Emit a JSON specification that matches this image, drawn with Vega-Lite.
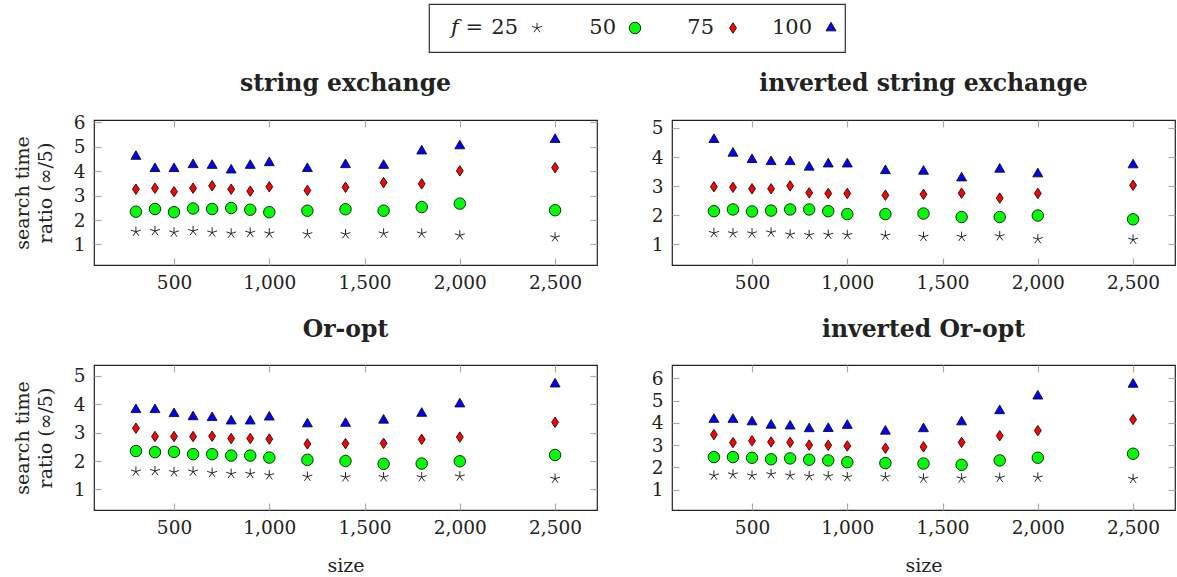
{
  "$schema": "https://vega.github.io/schema/vega-lite/v6.json",
  "background": "white",
  "padding": {"left": 12, "top": 3, "right": 0, "bottom": 0},
  "config": {
    "font": "DejaVu Serif",
    "view": {"stroke": "#222", "strokeWidth": 1.2},
    "axis": {
      "labelFont": "DejaVu Serif", "labelFontSize": 18.5, "labelColor": "#222", "labelFlush": false,
      "titleFont": "DejaVu Serif", "titleFontSize": 19, "titleFontWeight": "normal", "titleColor": "#222", "titleLineHeight": 23,
      "grid": false, "domain": false, "tickColor": "#aaa", "tickSize": -7, "tickWidth": 1.2, "labelPadding": 16
    },
    "title": {"font": "DejaVu Serif", "fontSize": 23.5, "fontWeight": "bold", "color": "#222", "offset": 23}
  },
  "datasets": {
    "series": [{"f": "25"}, {"f": "50"}, {"f": "75"}, {"f": "100"}],
    "stringExchange": [
      {"size": 300, "f": "25", "ratio": 1.52}, {"size": 400, "f": "25", "ratio": 1.55}, {"size": 500, "f": "25", "ratio": 1.49}, {"size": 600, "f": "25", "ratio": 1.55}, {"size": 700, "f": "25", "ratio": 1.49}, {"size": 800, "f": "25", "ratio": 1.45}, {"size": 900, "f": "25", "ratio": 1.48}, {"size": 1000, "f": "25", "ratio": 1.45}, {"size": 1200, "f": "25", "ratio": 1.42}, {"size": 1400, "f": "25", "ratio": 1.42}, {"size": 1600, "f": "25", "ratio": 1.45}, {"size": 1800, "f": "25", "ratio": 1.45}, {"size": 2000, "f": "25", "ratio": 1.37}, {"size": 2500, "f": "25", "ratio": 1.29},
      {"size": 300, "f": "50", "ratio": 2.34}, {"size": 400, "f": "50", "ratio": 2.45}, {"size": 500, "f": "50", "ratio": 2.32}, {"size": 600, "f": "50", "ratio": 2.47}, {"size": 700, "f": "50", "ratio": 2.45}, {"size": 800, "f": "50", "ratio": 2.49}, {"size": 900, "f": "50", "ratio": 2.42}, {"size": 1000, "f": "50", "ratio": 2.32}, {"size": 1200, "f": "50", "ratio": 2.38}, {"size": 1400, "f": "50", "ratio": 2.44}, {"size": 1600, "f": "50", "ratio": 2.38}, {"size": 1800, "f": "50", "ratio": 2.53}, {"size": 2000, "f": "50", "ratio": 2.67}, {"size": 2500, "f": "50", "ratio": 2.40},
      {"size": 300, "f": "75", "ratio": 3.26}, {"size": 400, "f": "75", "ratio": 3.30}, {"size": 500, "f": "75", "ratio": 3.16}, {"size": 600, "f": "75", "ratio": 3.30}, {"size": 700, "f": "75", "ratio": 3.40}, {"size": 800, "f": "75", "ratio": 3.26}, {"size": 900, "f": "75", "ratio": 3.18}, {"size": 1000, "f": "75", "ratio": 3.36}, {"size": 1200, "f": "75", "ratio": 3.21}, {"size": 1400, "f": "75", "ratio": 3.34}, {"size": 1600, "f": "75", "ratio": 3.53}, {"size": 1800, "f": "75", "ratio": 3.48}, {"size": 2000, "f": "75", "ratio": 4.01}, {"size": 2500, "f": "75", "ratio": 4.14},
      {"size": 300, "f": "100", "ratio": 4.60}, {"size": 400, "f": "100", "ratio": 4.10}, {"size": 500, "f": "100", "ratio": 4.10}, {"size": 600, "f": "100", "ratio": 4.26}, {"size": 700, "f": "100", "ratio": 4.23}, {"size": 800, "f": "100", "ratio": 4.04}, {"size": 900, "f": "100", "ratio": 4.23}, {"size": 1000, "f": "100", "ratio": 4.34}, {"size": 1200, "f": "100", "ratio": 4.10}, {"size": 1400, "f": "100", "ratio": 4.26}, {"size": 1600, "f": "100", "ratio": 4.23}, {"size": 1800, "f": "100", "ratio": 4.82}, {"size": 2000, "f": "100", "ratio": 5.03}, {"size": 2500, "f": "100", "ratio": 5.29}
    ],
    "invertedStringExchange": [
      {"size": 300, "f": "25", "ratio": 1.39}, {"size": 400, "f": "25", "ratio": 1.38}, {"size": 500, "f": "25", "ratio": 1.38}, {"size": 600, "f": "25", "ratio": 1.41}, {"size": 700, "f": "25", "ratio": 1.34}, {"size": 800, "f": "25", "ratio": 1.32}, {"size": 900, "f": "25", "ratio": 1.33}, {"size": 1000, "f": "25", "ratio": 1.32}, {"size": 1200, "f": "25", "ratio": 1.30}, {"size": 1400, "f": "25", "ratio": 1.26}, {"size": 1600, "f": "25", "ratio": 1.26}, {"size": 1800, "f": "25", "ratio": 1.28}, {"size": 2000, "f": "25", "ratio": 1.18}, {"size": 2500, "f": "25", "ratio": 1.16},
      {"size": 300, "f": "50", "ratio": 2.14}, {"size": 400, "f": "50", "ratio": 2.20}, {"size": 500, "f": "50", "ratio": 2.13}, {"size": 600, "f": "50", "ratio": 2.16}, {"size": 700, "f": "50", "ratio": 2.20}, {"size": 800, "f": "50", "ratio": 2.20}, {"size": 900, "f": "50", "ratio": 2.14}, {"size": 1000, "f": "50", "ratio": 2.04}, {"size": 1200, "f": "50", "ratio": 2.04}, {"size": 1400, "f": "50", "ratio": 2.06}, {"size": 1600, "f": "50", "ratio": 1.94}, {"size": 1800, "f": "50", "ratio": 1.94}, {"size": 2000, "f": "50", "ratio": 1.99}, {"size": 2500, "f": "50", "ratio": 1.86},
      {"size": 300, "f": "75", "ratio": 2.98}, {"size": 400, "f": "75", "ratio": 2.96}, {"size": 500, "f": "75", "ratio": 2.91}, {"size": 600, "f": "75", "ratio": 2.91}, {"size": 700, "f": "75", "ratio": 3.01}, {"size": 800, "f": "75", "ratio": 2.77}, {"size": 900, "f": "75", "ratio": 2.75}, {"size": 1000, "f": "75", "ratio": 2.75}, {"size": 1200, "f": "75", "ratio": 2.69}, {"size": 1400, "f": "75", "ratio": 2.72}, {"size": 1600, "f": "75", "ratio": 2.76}, {"size": 1800, "f": "75", "ratio": 2.59}, {"size": 2000, "f": "75", "ratio": 2.75}, {"size": 2500, "f": "75", "ratio": 3.03},
      {"size": 300, "f": "100", "ratio": 4.60}, {"size": 400, "f": "100", "ratio": 4.13}, {"size": 500, "f": "100", "ratio": 3.91}, {"size": 600, "f": "100", "ratio": 3.84}, {"size": 700, "f": "100", "ratio": 3.84}, {"size": 800, "f": "100", "ratio": 3.65}, {"size": 900, "f": "100", "ratio": 3.76}, {"size": 1000, "f": "100", "ratio": 3.76}, {"size": 1200, "f": "100", "ratio": 3.53}, {"size": 1400, "f": "100", "ratio": 3.51}, {"size": 1600, "f": "100", "ratio": 3.28}, {"size": 1800, "f": "100", "ratio": 3.58}, {"size": 2000, "f": "100", "ratio": 3.42}, {"size": 2500, "f": "100", "ratio": 3.73}
    ],
    "orOpt": [
      {"size": 300, "f": "25", "ratio": 1.63}, {"size": 400, "f": "25", "ratio": 1.65}, {"size": 500, "f": "25", "ratio": 1.61}, {"size": 600, "f": "25", "ratio": 1.63}, {"size": 700, "f": "25", "ratio": 1.58}, {"size": 800, "f": "25", "ratio": 1.55}, {"size": 900, "f": "25", "ratio": 1.55}, {"size": 1000, "f": "25", "ratio": 1.50}, {"size": 1200, "f": "25", "ratio": 1.45}, {"size": 1400, "f": "25", "ratio": 1.43}, {"size": 1600, "f": "25", "ratio": 1.43}, {"size": 1800, "f": "25", "ratio": 1.43}, {"size": 2000, "f": "25", "ratio": 1.46}, {"size": 2500, "f": "25", "ratio": 1.38},
      {"size": 300, "f": "50", "ratio": 2.35}, {"size": 400, "f": "50", "ratio": 2.31}, {"size": 500, "f": "50", "ratio": 2.32}, {"size": 600, "f": "50", "ratio": 2.24}, {"size": 700, "f": "50", "ratio": 2.24}, {"size": 800, "f": "50", "ratio": 2.19}, {"size": 900, "f": "50", "ratio": 2.19}, {"size": 1000, "f": "50", "ratio": 2.12}, {"size": 1200, "f": "50", "ratio": 2.04}, {"size": 1400, "f": "50", "ratio": 2.00}, {"size": 1600, "f": "50", "ratio": 1.90}, {"size": 1800, "f": "50", "ratio": 1.91}, {"size": 2000, "f": "50", "ratio": 1.99}, {"size": 2500, "f": "50", "ratio": 2.21},
      {"size": 300, "f": "75", "ratio": 3.15}, {"size": 400, "f": "75", "ratio": 2.86}, {"size": 500, "f": "75", "ratio": 2.86}, {"size": 600, "f": "75", "ratio": 2.86}, {"size": 700, "f": "75", "ratio": 2.87}, {"size": 800, "f": "75", "ratio": 2.79}, {"size": 900, "f": "75", "ratio": 2.79}, {"size": 1000, "f": "75", "ratio": 2.77}, {"size": 1200, "f": "75", "ratio": 2.60}, {"size": 1400, "f": "75", "ratio": 2.61}, {"size": 1600, "f": "75", "ratio": 2.62}, {"size": 1800, "f": "75", "ratio": 2.76}, {"size": 2000, "f": "75", "ratio": 2.84}, {"size": 2500, "f": "75", "ratio": 3.36},
      {"size": 300, "f": "100", "ratio": 3.80}, {"size": 400, "f": "100", "ratio": 3.80}, {"size": 500, "f": "100", "ratio": 3.66}, {"size": 600, "f": "100", "ratio": 3.55}, {"size": 700, "f": "100", "ratio": 3.52}, {"size": 800, "f": "100", "ratio": 3.40}, {"size": 900, "f": "100", "ratio": 3.40}, {"size": 1000, "f": "100", "ratio": 3.54}, {"size": 1200, "f": "100", "ratio": 3.30}, {"size": 1400, "f": "100", "ratio": 3.32}, {"size": 1600, "f": "100", "ratio": 3.43}, {"size": 1800, "f": "100", "ratio": 3.67}, {"size": 2000, "f": "100", "ratio": 4.00}, {"size": 2500, "f": "100", "ratio": 4.70}
    ],
    "invertedOrOpt": [
      {"size": 300, "f": "25", "ratio": 1.63}, {"size": 400, "f": "25", "ratio": 1.68}, {"size": 500, "f": "25", "ratio": 1.63}, {"size": 600, "f": "25", "ratio": 1.69}, {"size": 700, "f": "25", "ratio": 1.63}, {"size": 800, "f": "25", "ratio": 1.60}, {"size": 900, "f": "25", "ratio": 1.60}, {"size": 1000, "f": "25", "ratio": 1.56}, {"size": 1200, "f": "25", "ratio": 1.56}, {"size": 1400, "f": "25", "ratio": 1.50}, {"size": 1600, "f": "25", "ratio": 1.50}, {"size": 1800, "f": "25", "ratio": 1.53}, {"size": 2000, "f": "25", "ratio": 1.54}, {"size": 2500, "f": "25", "ratio": 1.48},
      {"size": 300, "f": "50", "ratio": 2.46}, {"size": 400, "f": "50", "ratio": 2.46}, {"size": 500, "f": "50", "ratio": 2.43}, {"size": 600, "f": "50", "ratio": 2.36}, {"size": 700, "f": "50", "ratio": 2.40}, {"size": 800, "f": "50", "ratio": 2.34}, {"size": 900, "f": "50", "ratio": 2.31}, {"size": 1000, "f": "50", "ratio": 2.23}, {"size": 1200, "f": "50", "ratio": 2.19}, {"size": 1400, "f": "50", "ratio": 2.17}, {"size": 1600, "f": "50", "ratio": 2.11}, {"size": 1800, "f": "50", "ratio": 2.31}, {"size": 2000, "f": "50", "ratio": 2.43}, {"size": 2500, "f": "50", "ratio": 2.61},
      {"size": 300, "f": "75", "ratio": 3.47}, {"size": 400, "f": "75", "ratio": 3.11}, {"size": 500, "f": "75", "ratio": 3.19}, {"size": 600, "f": "75", "ratio": 3.14}, {"size": 700, "f": "75", "ratio": 3.12}, {"size": 800, "f": "75", "ratio": 3.00}, {"size": 900, "f": "75", "ratio": 2.99}, {"size": 1000, "f": "75", "ratio": 2.96}, {"size": 1200, "f": "75", "ratio": 2.86}, {"size": 1400, "f": "75", "ratio": 2.92}, {"size": 1600, "f": "75", "ratio": 3.12}, {"size": 1800, "f": "75", "ratio": 3.42}, {"size": 2000, "f": "75", "ratio": 3.65}, {"size": 2500, "f": "75", "ratio": 4.15},
      {"size": 300, "f": "100", "ratio": 4.15}, {"size": 400, "f": "100", "ratio": 4.15}, {"size": 500, "f": "100", "ratio": 4.04}, {"size": 600, "f": "100", "ratio": 3.89}, {"size": 700, "f": "100", "ratio": 3.85}, {"size": 800, "f": "100", "ratio": 3.73}, {"size": 900, "f": "100", "ratio": 3.74}, {"size": 1000, "f": "100", "ratio": 3.88}, {"size": 1200, "f": "100", "ratio": 3.62}, {"size": 1400, "f": "100", "ratio": 3.73}, {"size": 1600, "f": "100", "ratio": 4.04}, {"size": 1800, "f": "100", "ratio": 4.54}, {"size": 2000, "f": "100", "ratio": 5.20}, {"size": 2500, "f": "100", "ratio": 5.73}
    ]
  },
  "spacing": 18,
  "vconcat": [
    {
      "spacing": 0,
      "hconcat": [
        {
          "width": 334,
          "height": 48,
          "view": {"stroke": null},
          "data": {"values": []},
          "mark": "point"
        },
        {
          "data": {"name": "series"},
          "width": 416,
          "height": 48,
          "view": {"stroke": "#333", "strokeWidth": 1.2},
          "encoding": {
            "x": {"field": "f", "type": "nominal", "scale": {"type": "point", "domain": ["25", "50", "75", "100"], "range": [108, 402], "padding": 0}, "axis": null}
          },
          "layer": [
            {
              "mark": {"type": "point", "filled": true, "size": 132, "stroke": "#111", "strokeWidth": 0.9, "opacity": 1},
              "encoding": {
                "shape": {"field": "f", "type": "nominal", "scale": {"domain": ["25", "50", "75", "100"], "range": ["M0,0L0,-0.9M0,0L0.856,-0.278M0,0L0.529,0.728M0,0L-0.529,0.728M0,0L-0.856,-0.278", "circle", "M0,-0.91L0.6,0L0,0.91L-0.6,0Z", "M0,-1L0.866,0.5L-0.866,0.5Z"]}, "legend": null},
                "fill": {"field": "f", "type": "nominal", "scale": {"domain": ["25", "50", "75", "100"], "range": ["transparent", "#00ff00", "#ff0000", "#0000ff"]}, "legend": null}
              }
            },
            {
              "mark": {"type": "text", "align": "right", "baseline": "middle", "dx": -19, "fontSize": 21, "font": "DejaVu Serif", "color": "#222"},
              "encoding": {"text": {"field": "f"}}
            },
            {
              "transform": [{"filter": "datum.f == '25'"}],
              "mark": {"type": "text", "align": "right", "baseline": "middle", "dx": -54, "fontSize": 21, "font": "DejaVu Serif", "fontStyle": "italic", "color": "#222"},
              "encoding": {"text": {"value": "f ="}}
            }
          ]
        }
      ]
    },
    {
      "columns": 2,
      "bounds": "flush",
      "spacing": {"column": 75, "row": 100},
      "concat": [
        {
          "data": {"name": "stringExchange"},
          "title": {"text": "string exchange", "offset": 18},
          "width": 503, "height": 145,
          "layer": [
            {
              "transform": [{"filter": "datum.f != '25'"}],
              "mark": {"type": "point", "filled": true, "size": 132, "stroke": "#111", "strokeWidth": 0.9, "opacity": 1},
              "encoding": {
                "x": {"field": "size", "type": "quantitative", "scale": {"domain": [80, 2720], "nice": false, "zero": false}, "axis": {"orient": "bottom", "values": [500, 1000, 1500, 2000, 2500], "format": ",d", "title": null, "labelPadding": 15}},
                "y": {"field": "ratio", "type": "quantitative", "scale": {"domain": [0.16, 6.09], "nice": false, "zero": false}, "axis": {"orient": "left", "values": [1, 2, 3, 4, 5, 6], "format": "d", "title": ["search time", "ratio (∞/5)"], "titlePadding": 18}},
                "shape": {"field": "f", "type": "nominal", "scale": {"domain": ["25", "50", "75", "100"], "range": ["M0,0L0,-0.9M0,0L0.856,-0.278M0,0L0.529,0.728M0,0L-0.529,0.728M0,0L-0.856,-0.278", "circle", "M0,-0.91L0.6,0L0,0.91L-0.6,0Z", "M0,-1L0.866,0.5L-0.866,0.5Z"]}, "legend": null},
                "fill": {"field": "f", "type": "nominal", "scale": {"domain": ["25", "50", "75", "100"], "range": ["transparent", "#00ff00", "#ff0000", "#0000ff"]}, "legend": null}
              }
            },
            {
              "transform": [{"filter": "datum.f == '25'"}],
              "mark": {"type": "point", "filled": true, "size": 132, "stroke": "#111", "strokeWidth": 0.9, "opacity": 1},
              "encoding": {
                "x": {"field": "size", "type": "quantitative", "axis": {"orient": "top", "values": [500, 1000, 1500, 2000, 2500], "labels": false, "title": null}},
                "y": {"field": "ratio", "type": "quantitative", "axis": {"orient": "right", "values": [1, 2, 3, 4, 5, 6], "labels": false, "title": null}},
                "shape": {"field": "f", "type": "nominal", "legend": null},
                "fill": {"field": "f", "type": "nominal", "legend": null}
              }
            }
          ],
          "resolve": {"axis": {"x": "independent", "y": "independent"}}
        },
        {
          "data": {"name": "invertedStringExchange"},
          "title": {"text": "inverted string exchange"},
          "width": 503, "height": 145,
          "layer": [
            {
              "transform": [{"filter": "datum.f != '25'"}],
              "mark": {"type": "point", "filled": true, "size": 132, "stroke": "#111", "strokeWidth": 0.9, "opacity": 1},
              "encoding": {
                "x": {"field": "size", "type": "quantitative", "scale": {"domain": [80, 2720], "nice": false, "zero": false}, "axis": {"orient": "bottom", "values": [500, 1000, 1500, 2000, 2500], "format": ",d", "title": null, "labelPadding": 15}},
                "y": {"field": "ratio", "type": "quantitative", "scale": {"domain": [0.29, 5.275], "nice": false, "zero": false}, "axis": {"orient": "left", "values": [1, 2, 3, 4, 5], "format": "d", "title": null}},
                "shape": {"field": "f", "type": "nominal", "scale": {"domain": ["25", "50", "75", "100"], "range": ["M0,0L0,-0.9M0,0L0.856,-0.278M0,0L0.529,0.728M0,0L-0.529,0.728M0,0L-0.856,-0.278", "circle", "M0,-0.91L0.6,0L0,0.91L-0.6,0Z", "M0,-1L0.866,0.5L-0.866,0.5Z"]}, "legend": null},
                "fill": {"field": "f", "type": "nominal", "scale": {"domain": ["25", "50", "75", "100"], "range": ["transparent", "#00ff00", "#ff0000", "#0000ff"]}, "legend": null}
              }
            },
            {
              "transform": [{"filter": "datum.f == '25'"}],
              "mark": {"type": "point", "filled": true, "size": 132, "stroke": "#111", "strokeWidth": 0.9, "opacity": 1},
              "encoding": {
                "x": {"field": "size", "type": "quantitative", "axis": {"orient": "top", "values": [500, 1000, 1500, 2000, 2500], "labels": false, "title": null}},
                "y": {"field": "ratio", "type": "quantitative", "axis": {"orient": "right", "values": [1, 2, 3, 4, 5], "labels": false, "title": null}},
                "shape": {"field": "f", "type": "nominal", "legend": null},
                "fill": {"field": "f", "type": "nominal", "legend": null}
              }
            }
          ],
          "resolve": {"axis": {"x": "independent", "y": "independent"}}
        },
        {
          "data": {"name": "orOpt"},
          "title": {"text": "Or-opt"},
          "width": 503, "height": 145,
          "layer": [
            {
              "transform": [{"filter": "datum.f != '25'"}],
              "mark": {"type": "point", "filled": true, "size": 132, "stroke": "#111", "strokeWidth": 0.9, "opacity": 1},
              "encoding": {
                "x": {"field": "size", "type": "quantitative", "scale": {"domain": [80, 2720], "nice": false, "zero": false}, "axis": {"orient": "bottom", "values": [500, 1000, 1500, 2000, 2500], "format": ",d", "title": "size", "labelPadding": 15, "titlePadding": 20}},
                "y": {"field": "ratio", "type": "quantitative", "scale": {"domain": [0.28, 5.37], "nice": false, "zero": false}, "axis": {"orient": "left", "values": [1, 2, 3, 4, 5], "format": "d", "title": ["search time", "ratio (∞/5)"], "titlePadding": 18}},
                "shape": {"field": "f", "type": "nominal", "scale": {"domain": ["25", "50", "75", "100"], "range": ["M0,0L0,-0.9M0,0L0.856,-0.278M0,0L0.529,0.728M0,0L-0.529,0.728M0,0L-0.856,-0.278", "circle", "M0,-0.91L0.6,0L0,0.91L-0.6,0Z", "M0,-1L0.866,0.5L-0.866,0.5Z"]}, "legend": null},
                "fill": {"field": "f", "type": "nominal", "scale": {"domain": ["25", "50", "75", "100"], "range": ["transparent", "#00ff00", "#ff0000", "#0000ff"]}, "legend": null}
              }
            },
            {
              "transform": [{"filter": "datum.f == '25'"}],
              "mark": {"type": "point", "filled": true, "size": 132, "stroke": "#111", "strokeWidth": 0.9, "opacity": 1},
              "encoding": {
                "x": {"field": "size", "type": "quantitative", "axis": {"orient": "top", "values": [500, 1000, 1500, 2000, 2500], "labels": false, "title": null}},
                "y": {"field": "ratio", "type": "quantitative", "axis": {"orient": "right", "values": [1, 2, 3, 4, 5], "labels": false, "title": null}},
                "shape": {"field": "f", "type": "nominal", "legend": null},
                "fill": {"field": "f", "type": "nominal", "legend": null}
              }
            }
          ],
          "resolve": {"axis": {"x": "independent", "y": "independent"}}
        },
        {
          "data": {"name": "invertedOrOpt"},
          "title": {"text": "inverted Or-opt"},
          "width": 503, "height": 145,
          "layer": [
            {
              "transform": [{"filter": "datum.f != '25'"}],
              "mark": {"type": "point", "filled": true, "size": 132, "stroke": "#111", "strokeWidth": 0.9, "opacity": 1},
              "encoding": {
                "x": {"field": "size", "type": "quantitative", "scale": {"domain": [80, 2720], "nice": false, "zero": false}, "axis": {"orient": "bottom", "values": [500, 1000, 1500, 2000, 2500], "format": ",d", "title": "size", "labelPadding": 15, "titlePadding": 20}},
                "y": {"field": "ratio", "type": "quantitative", "scale": {"domain": [0.08, 6.6], "nice": false, "zero": false}, "axis": {"orient": "left", "values": [1, 2, 3, 4, 5, 6], "format": "d", "title": null}},
                "shape": {"field": "f", "type": "nominal", "scale": {"domain": ["25", "50", "75", "100"], "range": ["M0,0L0,-0.9M0,0L0.856,-0.278M0,0L0.529,0.728M0,0L-0.529,0.728M0,0L-0.856,-0.278", "circle", "M0,-0.91L0.6,0L0,0.91L-0.6,0Z", "M0,-1L0.866,0.5L-0.866,0.5Z"]}, "legend": null},
                "fill": {"field": "f", "type": "nominal", "scale": {"domain": ["25", "50", "75", "100"], "range": ["transparent", "#00ff00", "#ff0000", "#0000ff"]}, "legend": null}
              }
            },
            {
              "transform": [{"filter": "datum.f == '25'"}],
              "mark": {"type": "point", "filled": true, "size": 132, "stroke": "#111", "strokeWidth": 0.9, "opacity": 1},
              "encoding": {
                "x": {"field": "size", "type": "quantitative", "axis": {"orient": "top", "values": [500, 1000, 1500, 2000, 2500], "labels": false, "title": null}},
                "y": {"field": "ratio", "type": "quantitative", "axis": {"orient": "right", "values": [1, 2, 3, 4, 5, 6], "labels": false, "title": null}},
                "shape": {"field": "f", "type": "nominal", "legend": null},
                "fill": {"field": "f", "type": "nominal", "legend": null}
              }
            }
          ],
          "resolve": {"axis": {"x": "independent", "y": "independent"}}
        }
      ]
    }
  ]
}
